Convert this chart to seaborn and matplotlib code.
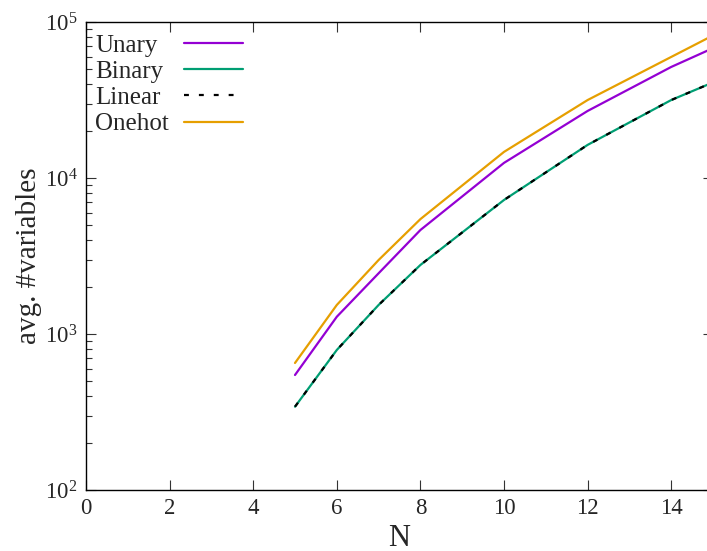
import matplotlib
matplotlib.use("Agg")
import matplotlib.pyplot as plt
import seaborn as sns
import pandas as pd
from matplotlib.ticker import LogLocator, FixedLocator

N = [5, 6, 7, 8, 10, 12, 14, 15]
unary = [546, 1290, 2450, 4640, 12500, 26900, 51500, 68000]
binary = [342, 790, 1535, 2770, 7230, 16300, 31600, 41000]
linear = [342, 790, 1535, 2770, 7230, 16300, 31600, 41000]
onehot = [652, 1535, 2980, 5450, 14700, 31600, 59700, 82000]
labels = ["Unary", "Binary", "Linear", "Onehot"]

sns.set_theme(style="ticks")
plt.rcParams['font.family'] = ['Liberation Serif', 'DejaVu Serif']
plt.rcParams['mathtext.fontset'] = 'stix'

fig = plt.figure(figsize=(7.07, 5.51), dpi=100)
ax = fig.add_axes([86/707, 61/551, 627/707, 468/551])

df = pd.DataFrame({"N": N, "Unary": unary, "Binary": binary, "Linear": linear, "Onehot": onehot})

sns.lineplot(data=df, x="N", y="Unary", ax=ax, color="#9400D3", lw=1.6, label="Unary")
sns.lineplot(data=df, x="N", y="Binary", ax=ax, color="#009E73", lw=1.6, label="Binary")
sns.lineplot(data=df, x="N", y="Linear", ax=ax, color="black", lw=1.6, label="Linear",
             dashes=False, linestyle=(0, (2.2, 4.5)))
sns.lineplot(data=df, x="N", y="Onehot", ax=ax, color="#E69F00", lw=1.6, label="Onehot")

ax.set_yscale("log")
ax.set_xlim(0, 15)
ax.set_ylim(100, 100000)
ax.xaxis.set_major_locator(FixedLocator([0, 2, 4, 6, 8, 10, 12, 14]))
ax.yaxis.set_major_locator(LogLocator(base=10))
ax.yaxis.set_minor_locator(LogLocator(base=10, subs=range(2, 10)))
ax.tick_params(which="both", direction="in", top=True, right=True, labelsize=16.5, width=0.8, color="#333333")
ax.tick_params(axis="y", pad=6)
ax.tick_params(axis="x", pad=6)
ax.tick_params(which="major", length=7)
ax.tick_params(which="minor", length=4)
ax.tick_params(axis="x", which="minor", top=False, bottom=False)
for s in ax.spines.values():
    s.set_linewidth(1.0)
    s.set_color("black")

ax.set_xlabel("N", fontsize=22, labelpad=3)
ax.set_ylabel("avg. #variables", fontsize=21, labelpad=2)

handles, _ = ax.get_legend_handles_labels()
fs = 18
# text column (left aligned)
leg1 = ax.legend(handles, labels, loc="upper left", frameon=False, fontsize=fs,
                 handlelength=0, handletextpad=0, labelspacing=0.15,
                 borderpad=0, borderaxespad=0, bbox_to_anchor=(9/627, 0.974))
for h in leg1.legend_handles:
    h.set_visible(False)
ax.add_artist(leg1)
# line sample column
leg2 = ax.legend(handles, [""] * 4, loc="upper left", frameon=False, fontsize=fs,
                 handlelength=2.36, handletextpad=0.2, labelspacing=0.15,
                 borderpad=0, borderaxespad=0, bbox_to_anchor=(98/627, 0.974))

fig.savefig("out.png", dpi=100)
